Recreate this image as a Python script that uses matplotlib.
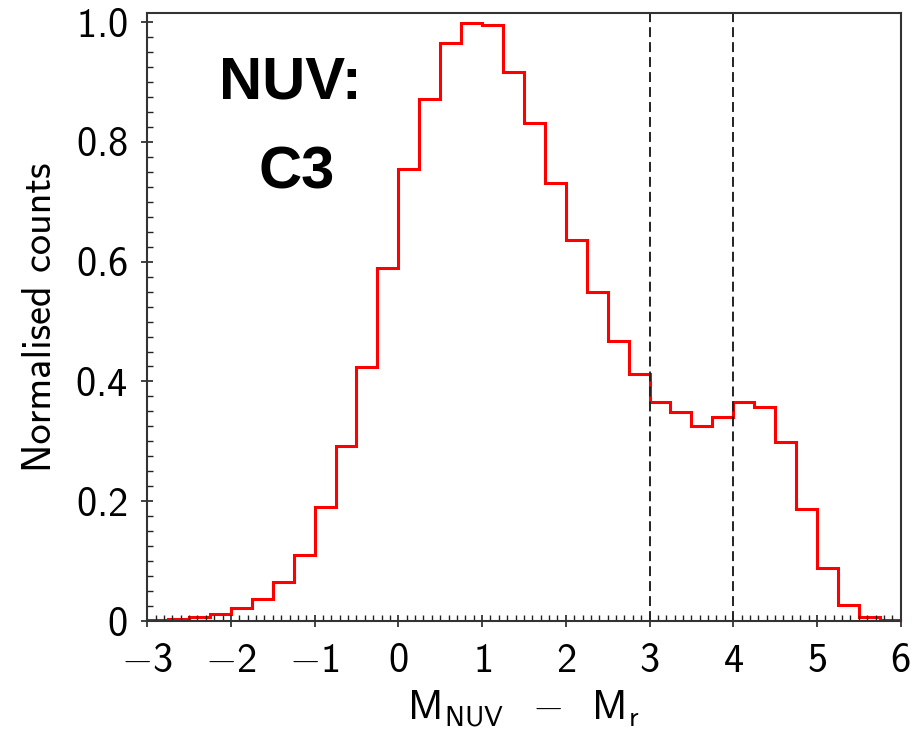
import numpy as np
import matplotlib
matplotlib.use("Agg")
import matplotlib.pyplot as plt
from matplotlib.ticker import MultipleLocator, FuncFormatter

plt.rcParams['font.family'] = ['cmss10', 'DejaVu Sans']
plt.rcParams['mathtext.fontset'] = 'custom'
plt.rcParams['mathtext.rm'] = 'cmss10'
plt.rcParams['mathtext.sf'] = 'cmss10'
plt.rcParams['mathtext.it'] = 'cmss10'
plt.rcParams['axes.formatter.use_mathtext'] = True

# bin edges of the histogram (width 0.25 mag)
bin_edges = np.linspace(-3, 6, 37)

# normalised counts
counts = [0.002, 0.003, 0.006, 0.011, 0.021, 0.036, 0.065, 0.111,
          0.190, 0.293, 0.424, 0.590, 0.754, 0.871, 0.965, 0.999,
          0.995, 0.916, 0.832, 0.732, 0.636, 0.549, 0.467, 0.413,
          0.365, 0.349, 0.325, 0.341, 0.365, 0.357, 0.299, 0.187,
          0.089, 0.026, 0.006, 0.001]

cut_lines = [3, 4]
x_ticks = [-3, -2, -1, 0, 1, 2, 3, 4, 5, 6]
y_ticks = [0, 0.2, 0.4, 0.6, 0.8, 1.0]

fig = plt.figure(figsize=(9.2, 7.32), dpi=100)
ax = fig.add_axes([0.160, 0.1516, 0.819, 0.8305])

ax.stairs(counts, bin_edges, color='red', lw=2.2, baseline=None)

for xc in cut_lines:
    ax.axvline(xc, color='#222222', lw=1.4, dashes=(5.1, 2.6))

ax.set_xlim(-3, 6)
ax.set_ylim(0, 1.015)

ax.set_xticks(x_ticks)
ax.set_yticks(y_ticks)
ax.xaxis.set_minor_locator(MultipleLocator(0.1))
ax.yaxis.set_minor_locator(MultipleLocator(0.025))

def fmt_y(v, pos):
    s = '0' if abs(v) < 1e-9 else '%.1f' % v
    return r'$%s$' % s

def fmt_x(v, pos):
    return r'$%d$' % int(round(v))

ax.xaxis.set_major_formatter(FuncFormatter(fmt_x))
ax.yaxis.set_major_formatter(FuncFormatter(fmt_y))

ax.tick_params(which='major', direction='inout', length=8, width=1.2,
               labelsize=29, top=False, right=False, color='#222222')
ax.tick_params(which='minor', direction='in', length=4, width=1.0,
               top=False, right=False, color='#222222')
ax.tick_params(axis='y', which='major', pad=10)
ax.tick_params(axis='x', which='major', pad=12)

for sp in ax.spines.values():
    sp.set_color('#333333')
    sp.set_linewidth(1.5)

ax.set_ylabel('Normalised counts', fontsize=29, labelpad=12)
ax.set_xlabel(r'$\mathrm{M_{NUV}\ \ -\ \ M_r}$', fontsize=29, labelpad=6)

ax.text(0.190, 0.885, 'NUV:', transform=ax.transAxes, ha='center', va='center',
        fontsize=43, fontweight='bold', family='Liberation Sans')
ax.text(0.198, 0.737, 'C3', transform=ax.transAxes, ha='center', va='center',
        fontsize=43, fontweight='bold', family='Liberation Sans')

fig.savefig('out.png', dpi=100)
